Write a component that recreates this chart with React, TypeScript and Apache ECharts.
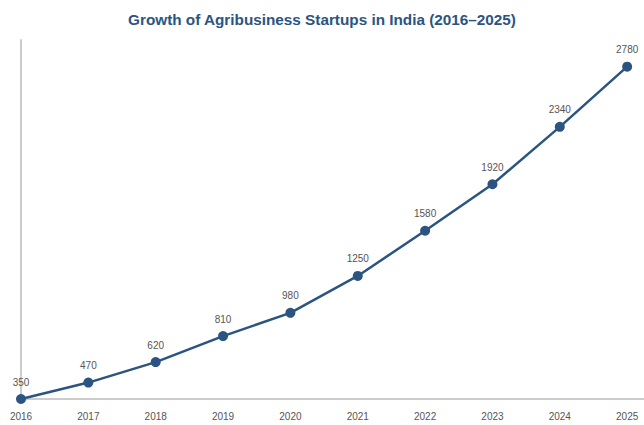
import React, { useEffect, useRef } from "react";
import * as echarts from "echarts";

const years = [2016, 2017, 2018, 2019, 2020, 2021, 2022, 2023, 2024, 2025];
const startups = [350, 470, 620, 810, 980, 1250, 1580, 1920, 2340, 2780];
const title = "Growth of Agribusiness Startups in India (2016–2025)";

export default function App() {
  const ref = useRef<HTMLDivElement>(null);
  useEffect(() => {
    if (!ref.current) return;
    const chart = echarts.init(ref.current, null, { renderer: "svg" });
    chart.setOption({
      animation: false,
      textStyle: { fontFamily: "Liberation Sans, Arial, sans-serif" },
      title: {
        text: title,
        left: "center",
        top: 7,
        textStyle: { color: "#2b5481", fontSize: 15.3, fontWeight: "bold", fontFamily: "Liberation Sans, Arial, sans-serif" },
      },
      grid: { left: 21, right: 0, top: 40, bottom: 26, containLabel: false },
      xAxis: {
        type: "value",
        min: 2016,
        max: 2025.25,
        interval: 1,
        axisLine: { show: true, lineStyle: { color: "#cccccc", width: 2 } },
        axisTick: { show: false },
        splitLine: { show: false },
        axisLabel: {
          color: "#555555",
          fontSize: 10,
          margin: 12,
          showMaxLabel: false,
          formatter: (v: number) => (Number.isInteger(v) ? String(v) : ""),
        },
      },
      yAxis: {
        type: "value",
        min: 350,
        max: 2975,
        axisLine: { show: true, lineStyle: { color: "#cccccc", width: 2 } },
        axisTick: { show: false },
        axisLabel: { show: false },
        splitLine: { show: false },
      },
      series: [
        {
          type: "line",
          data: years.map((y, i) => [y, startups[i]]),
          symbol: "circle",
          symbolSize: 10,
          clip: false,
          lineStyle: { color: "#2b5481", width: 2.5 },
          itemStyle: { color: "#2b5481" },
          label: {
            show: true,
            position: "top",
            distance: 7,
            color: "#555555",
            fontSize: 10,
            formatter: (p: any) => String(p.value[1]),
          },
        },
      ],
    });
    return () => chart.dispose();
  }, []);
  return <div ref={ref} style={{ width: 644, height: 425, position: "absolute", left: 0, top: 0 }} />;
}
